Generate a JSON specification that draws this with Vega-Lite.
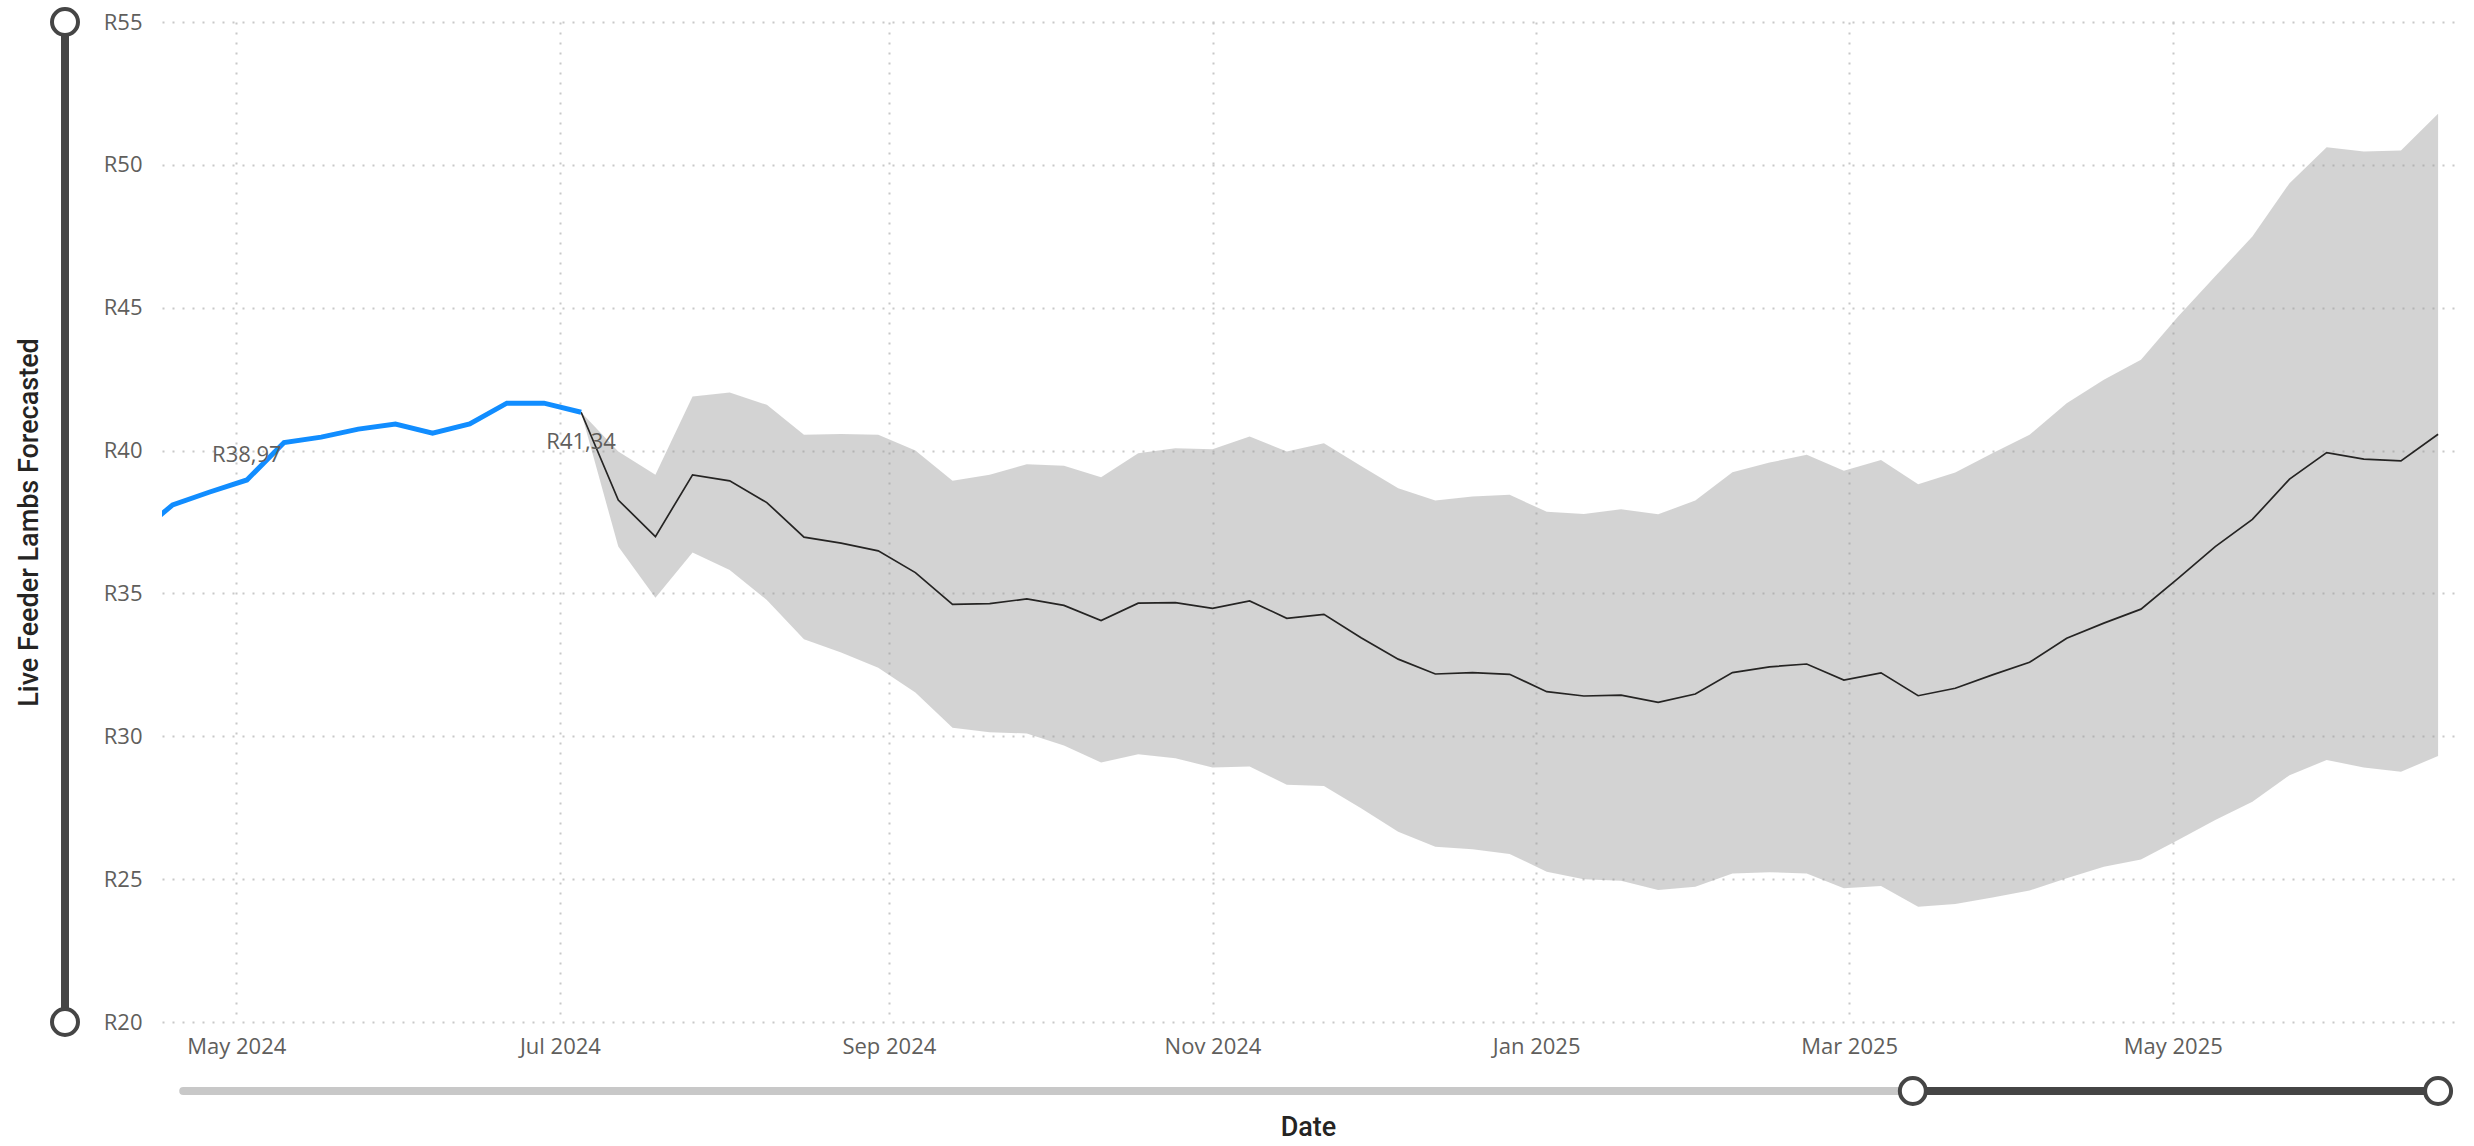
{
  "$schema": "https://vega.github.io/schema/vega-lite/v6.json",
  "background": "white",
  "padding": {"left": 15, "top": 1, "right": 10, "bottom": 30},
  "config": {
    "view": {"stroke": null},
    "locale": {"number": {"decimal": ",", "thousands": " ", "grouping": [3], "currency": ["R", ""]}},
    "axis": {"labelFont": "Open Sans", "titleFont": "Roboto"}
  },
  "datasets": {
    "yslider": [{"slider": "y", "low": 20, "high": 55}],
    "xslider": [{"slider": "x", "track_start": "2024-04-21", "track_end": "2025-06-20", "sel_start": "2025-03-13", "sel_end": "2025-06-20"}],
    "main": [
      {"date": "2024-04-12", "actual": 37.0},
      {"date": "2024-04-19", "actual": 38.10},
      {"date": "2024-04-26", "actual": 38.55},
      {"date": "2024-05-03", "actual": 38.97},
      {"date": "2024-05-10", "actual": 40.28},
      {"date": "2024-05-17", "actual": 40.47},
      {"date": "2024-05-24", "actual": 40.75},
      {"date": "2024-05-31", "actual": 40.93},
      {"date": "2024-06-07", "actual": 40.61},
      {"date": "2024-06-14", "actual": 40.93},
      {"date": "2024-06-21", "actual": 41.66},
      {"date": "2024-06-28", "actual": 41.66},
      {"date": "2024-07-05", "actual": 41.34, "forecast": 41.34, "lower": 41.34, "upper": 41.34},
      {"date": "2024-07-12", "forecast": 38.27, "lower": 36.64, "upper": 39.97},
      {"date": "2024-07-19", "forecast": 36.99, "lower": 34.85, "upper": 39.15},
      {"date": "2024-07-26", "forecast": 39.15, "lower": 36.43, "upper": 41.89},
      {"date": "2024-08-02", "forecast": 38.94, "lower": 35.82, "upper": 42.03},
      {"date": "2024-08-09", "forecast": 38.18, "lower": 34.77, "upper": 41.60},
      {"date": "2024-08-16", "forecast": 36.97, "lower": 33.40, "upper": 40.55},
      {"date": "2024-08-23", "forecast": 36.76, "lower": 32.93, "upper": 40.58},
      {"date": "2024-08-30", "forecast": 36.49, "lower": 32.40, "upper": 40.55},
      {"date": "2024-09-06", "forecast": 35.73, "lower": 31.53, "upper": 40.00},
      {"date": "2024-09-13", "forecast": 34.62, "lower": 30.30, "upper": 38.94},
      {"date": "2024-09-20", "forecast": 34.64, "lower": 30.14, "upper": 39.15},
      {"date": "2024-09-27", "forecast": 34.81, "lower": 30.10, "upper": 39.52},
      {"date": "2024-10-04", "forecast": 34.58, "lower": 29.68, "upper": 39.47},
      {"date": "2024-10-11", "forecast": 34.05, "lower": 29.08, "upper": 39.07},
      {"date": "2024-10-18", "forecast": 34.66, "lower": 29.37, "upper": 39.91},
      {"date": "2024-10-25", "forecast": 34.68, "lower": 29.23, "upper": 40.08},
      {"date": "2024-11-01", "forecast": 34.48, "lower": 28.91, "upper": 40.05},
      {"date": "2024-11-08", "forecast": 34.74, "lower": 28.94, "upper": 40.49},
      {"date": "2024-11-15", "forecast": 34.13, "lower": 28.30, "upper": 39.97},
      {"date": "2024-11-22", "forecast": 34.27, "lower": 28.26, "upper": 40.26},
      {"date": "2024-11-29", "forecast": 33.45, "lower": 27.48, "upper": 39.46},
      {"date": "2024-12-06", "forecast": 32.70, "lower": 26.66, "upper": 38.68},
      {"date": "2024-12-13", "forecast": 32.18, "lower": 26.13, "upper": 38.25},
      {"date": "2024-12-20", "forecast": 32.23, "lower": 26.05, "upper": 38.39},
      {"date": "2024-12-27", "forecast": 32.17, "lower": 25.88, "upper": 38.45},
      {"date": "2025-01-03", "forecast": 31.56, "lower": 25.26, "upper": 37.86},
      {"date": "2025-01-10", "forecast": 31.41, "lower": 25.00, "upper": 37.78},
      {"date": "2025-01-17", "forecast": 31.44, "lower": 24.94, "upper": 37.95},
      {"date": "2025-01-24", "forecast": 31.19, "lower": 24.62, "upper": 37.77},
      {"date": "2025-01-31", "forecast": 31.48, "lower": 24.73, "upper": 38.25},
      {"date": "2025-02-07", "forecast": 32.23, "lower": 25.20, "upper": 39.24},
      {"date": "2025-02-14", "forecast": 32.43, "lower": 25.24, "upper": 39.58},
      {"date": "2025-02-21", "forecast": 32.53, "lower": 25.20, "upper": 39.85},
      {"date": "2025-02-28", "forecast": 31.97, "lower": 24.68, "upper": 39.29},
      {"date": "2025-03-07", "forecast": 32.22, "lower": 24.76, "upper": 39.67},
      {"date": "2025-03-14", "forecast": 31.42, "lower": 24.03, "upper": 38.82},
      {"date": "2025-03-21", "forecast": 31.68, "lower": 24.13, "upper": 39.23},
      {"date": "2025-03-28", "forecast": 32.15, "lower": 24.36, "upper": 39.91},
      {"date": "2025-04-04", "forecast": 32.59, "lower": 24.60, "upper": 40.55},
      {"date": "2025-04-11", "forecast": 33.43, "lower": 25.03, "upper": 41.66},
      {"date": "2025-04-18", "forecast": 33.96, "lower": 25.43, "upper": 42.48},
      {"date": "2025-04-25", "forecast": 34.45, "lower": 25.69, "upper": 43.18},
      {"date": "2025-05-02", "forecast": 35.53, "lower": 26.37, "upper": 44.69},
      {"date": "2025-05-09", "forecast": 36.64, "lower": 27.07, "upper": 46.10},
      {"date": "2025-05-16", "forecast": 37.59, "lower": 27.71, "upper": 47.49},
      {"date": "2025-05-23", "forecast": 39.00, "lower": 28.64, "upper": 49.36},
      {"date": "2025-05-30", "forecast": 39.93, "lower": 29.17, "upper": 50.62},
      {"date": "2025-06-06", "forecast": 39.70, "lower": 28.91, "upper": 50.47},
      {"date": "2025-06-13", "forecast": 39.64, "lower": 28.76, "upper": 50.50},
      {"date": "2025-06-20", "forecast": 40.57, "lower": 29.31, "upper": 51.79}
    ]
  },
  "bounds": "flush",
  "spacing": 72,
  "hconcat": [
    {
      "width": 50,
      "height": 1000,
      "data": {"name": "yslider"},
      "encoding": {"x": {"field": "slider", "type": "nominal", "axis": null, "scale": {"type": "point"}}},
      "layer": [
        {
          "mark": {"type": "rule", "color": "#454545", "strokeWidth": 8},
          "encoding": {
            "y": {"field": "low", "type": "quantitative", "scale": {"domain": [20, 55], "nice": false, "zero": false}, "axis": null},
            "y2": {"field": "high"}
          }
        },
        {
          "mark": {"type": "point", "shape": "circle", "filled": true, "fill": "white", "stroke": "#454545", "strokeWidth": 4, "size": 676, "opacity": 1},
          "encoding": {"y": {"field": "low", "type": "quantitative", "axis": null}}
        },
        {
          "mark": {"type": "point", "shape": "circle", "filled": true, "fill": "white", "stroke": "#454545", "strokeWidth": 4, "size": 676, "opacity": 1},
          "encoding": {"y": {"field": "high", "type": "quantitative", "axis": null}}
        }
      ]
    },
    {
      "bounds": "flush",
      "spacing": 54,
      "vconcat": [
        {
          "width": 2292,
          "height": 1000,
          "data": {"name": "main"},
          "encoding": {
            "x": {
              "field": "date",
              "type": "temporal",
              "title": "Date",
              "scale": {"type": "utc", "nice": false, "domain": [{"year": 2024, "month": 4, "date": 17, "utc": true}, {"year": 2025, "month": 6, "date": 23, "utc": true}]},
              "axis": {
                "format": "%b %Y",
                "tickCount": {"interval": "month", "step": 2},
                "labelFontSize": 22,
                "labelColor": "#605E5C",
                "labelPadding": 14,
                "labelFlush": false,
                "ticks": false,
                "domain": false,
                "grid": true,
                "gridColor": "#c8c8c8",
                "gridDash": [2, 8],
                "gridWidth": 2,
                "titleFontSize": 27,
                "titleFontWeight": 500,
                "titleColor": "#252423",
                "titleY": 113,
                "titleBaseline": "alphabetic"
              }
            }
          },
          "layer": [
            {
              "transform": [{"filter": "isValid(datum.lower)"}],
              "mark": {"type": "area", "color": "#999999", "opacity": 0.43, "clip": true},
              "encoding": {
                "y": {
                  "field": "lower",
                  "type": "quantitative",
                  "title": "Live Feeder Lambs Forecasted",
                  "scale": {"domain": [20, 55], "nice": false, "zero": false},
                  "axis": {
                    "values": [20, 25, 30, 35, 40, 45, 50, 55],
                    "format": "$.0f",
                    "labelAlign": "right",
                    "labelPadding": 20,
                    "labelFontSize": 22,
                    "labelColor": "#605E5C",
                    "ticks": false,
                    "domain": false,
                    "grid": true,
                    "gridColor": "#c8c8c8",
                    "gridDash": [2, 8],
                    "gridWidth": 2,
                    "titleFontSize": 27,
                    "titleFontWeight": 500,
                    "titleColor": "#252423",
                    "titleX": -125,
                    "titleY": 500,
                    "titleAngle": -90,
                    "titleAlign": "center",
                    "titleBaseline": "alphabetic"
                  }
                },
                "y2": {"field": "upper"}
              }
            },
            {
              "transform": [{"filter": "isValid(datum.forecast)"}],
              "mark": {"type": "line", "color": "#252423", "strokeWidth": 1.7, "clip": true},
              "encoding": {"y": {"field": "forecast", "type": "quantitative", "title": "Live Feeder Lambs Forecasted"}}
            },
            {
              "transform": [{"filter": "isValid(datum.actual)"}],
              "mark": {"type": "line", "color": "#118DFF", "strokeWidth": 5, "clip": true},
              "encoding": {"y": {"field": "actual", "type": "quantitative", "title": "Live Feeder Lambs Forecasted"}}
            },
            {
              "transform": [{"filter": "isValid(datum.actual) && time(datum.date) == utc(2024, 4, 3)"}],
              "mark": {"type": "text", "align": "center", "baseline": "alphabetic", "dy": -18, "font": "Open Sans", "fontSize": 22, "color": "#605E5C"},
              "encoding": {
                "y": {"field": "actual", "type": "quantitative", "title": "Live Feeder Lambs Forecasted"},
                "text": {"field": "actual", "type": "quantitative", "format": "$.2f"}
              }
            },
            {
              "transform": [{"filter": "isValid(datum.actual) && time(datum.date) == utc(2024, 6, 5)"}],
              "mark": {"type": "text", "align": "center", "baseline": "alphabetic", "dy": 37, "font": "Open Sans", "fontSize": 22, "color": "#605E5C"},
              "encoding": {
                "y": {"field": "actual", "type": "quantitative", "title": "Live Feeder Lambs Forecasted"},
                "text": {"field": "actual", "type": "quantitative", "format": "$.2f"}
              }
            }
          ]
        },
        {
          "width": 2292,
          "height": 30,
          "data": {"name": "xslider"},
          "encoding": {"y": {"field": "slider", "type": "nominal", "axis": null, "scale": {"type": "point"}}},
          "layer": [
            {
              "mark": {"type": "rule", "color": "#c8c8c8", "strokeWidth": 8, "strokeCap": "round"},
              "encoding": {
                "x": {"field": "track_start", "type": "temporal", "axis": null, "scale": {"type": "utc", "nice": false, "domain": [{"year": 2024, "month": 4, "date": 17, "utc": true}, {"year": 2025, "month": 6, "date": 23, "utc": true}]}},
                "x2": {"field": "track_end"}
              }
            },
            {
              "mark": {"type": "rule", "color": "#454545", "strokeWidth": 8},
              "encoding": {
                "x": {"field": "sel_start", "type": "temporal", "axis": null},
                "x2": {"field": "sel_end"}
              }
            },
            {
              "mark": {"type": "point", "shape": "circle", "filled": true, "fill": "white", "stroke": "#454545", "strokeWidth": 4, "size": 676, "opacity": 1},
              "encoding": {"x": {"field": "sel_start", "type": "temporal", "axis": null}}
            },
            {
              "mark": {"type": "point", "shape": "circle", "filled": true, "fill": "white", "stroke": "#454545", "strokeWidth": 4, "size": 676, "opacity": 1},
              "encoding": {"x": {"field": "sel_end", "type": "temporal", "axis": null}}
            }
          ]
        }
      ]
    }
  ]
}
